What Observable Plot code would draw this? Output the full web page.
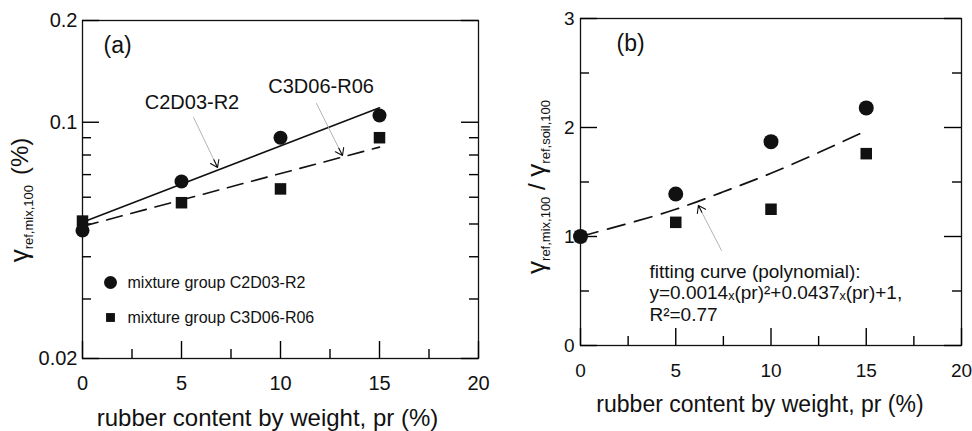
<!DOCTYPE html>
<html><head><meta charset="utf-8">
<script src="https://cdn.jsdelivr.net/npm/d3@7"></script>
<script src="https://cdn.jsdelivr.net/npm/@observablehq/plot@0.6"></script>
<style>
body{margin:0;background:#fff;}
#wrap{position:relative;width:972px;height:431px;overflow:hidden;background:#fff;}
#wrap svg{position:absolute;top:0;overflow:visible;}
</style></head><body><div id="wrap"></div>
<script>
// ---- data ----
const prContent = [0, 5, 10, 15];                 // rubber content by weight, pr (%)
const gammaC2D03 = [0.0478, 0.0668, 0.090, 0.1047]; // γref,mix,100 (%) group C2D03-R2
const gammaC3D06 = [0.051, 0.0578, 0.0635, 0.090];  // γref,mix,100 (%) group C3D06-R06
const fitX = [0, 15];
const fitC2D03 = [0.0506, 0.1103];   // solid fit line (a)
const fitC3D06 = [0.0492, 0.0844];   // dashed fit line (a)
const ratioC2D03 = [1.0, 1.39, 1.87, 2.18];  // γmix/γsoil (b)
const ratioC3D06 = [1.0, 1.13, 1.25, 1.76];
const polyX = [0, 2.5, 5, 7.5, 10, 12.5, 15];
const polyFit = [1.0, 1.12, 1.25, 1.41, 1.58, 1.77, 1.97];
const xTicks = [0, 5, 10, 15, 20];
const xMinorTicks = [2.5, 7.5, 12.5, 17.5];
const yTicksA = [0.02, 0.1, 0.2];
const yMinorA = [0.03, 0.04, 0.05, 0.06, 0.07, 0.08, 0.09];
const yTicksB = [0, 1, 2, 3];
const yMinorB = [0.5, 1.5, 2.5];

const font = '"Liberation Sans", Arial, Helvetica, sans-serif';
const INK = "#111";
const MAJ = 17, MIN = 9;

// inward ticks drawn as short rules (inset from the opposite side)
function inTicks(data, axis, len, fw, fh) {
  const common = {stroke: "#000", strokeWidth: 1.4};
  if (axis === "bottom") return Plot.ruleX(data, {...common, x: d => d, insetTop: fh - len});
  if (axis === "left") return Plot.ruleY(data, {...common, y: d => d, insetRight: fw - len});
  return Plot.ruleY(data, {...common, y: d => d, insetLeft: fw - len});
}

function frameAxes({xMaj, xMin, yMaj, yMin, yFmt, xPad, yPad, fs, fw, fh}) {
  return [
    Plot.frame({stroke: INK, strokeWidth: 1.3, fill: "none"}),
    Plot.axisX(xMaj, {anchor: "bottom", tickSize: 0, tickPadding: xPad, fontSize: fs, label: null, fill: INK}),
    Plot.axisY(yMaj, {anchor: "left", tickSize: 0, tickPadding: yPad, fontSize: fs, tickFormat: yFmt, label: null, fill: INK}),
    inTicks(xMaj, "bottom", MAJ, fw, fh),
    inTicks(xMin, "bottom", MIN, fw, fh),
    inTicks(yMaj, "left", MAJ, fw, fh),
    inTicks(yMin, "left", MIN, fw, fh),
    inTicks(yMaj, "right", MAJ, fw, fh),
    inTicks(yMin, "right", MIN, fw, fh)
  ];
}

function annotArrow(a) {
  return [
    Plot.arrow([a], {x1: "x1", y1: "y1", x2: "x2", y2: "y2", stroke: "#aaa", strokeWidth: 0.9, headLength: 0}),
    Plot.arrow([a], {x1: "x1", y1: "y1", x2: "x2", y2: "y2", stroke: INK, strokeWidth: 1.1, headLength: 11, headAngle: 70, insetStart: a.inset})
  ];
}

function yLabel(svg, x, y, parts) {
  const t = d3.select(svg).append("text")
    .attr("transform", `translate(${x},${y}) rotate(-90)`)
    .attr("text-anchor", "middle")
    .attr("font-family", font)
    .attr("fill", INK);
  for (const [s, size, dy, dx] of parts) {
    const sp = t.append("tspan").attr("font-size", size).text(s);
    if (dy) sp.attr("dy", dy);
    if (dx) sp.attr("dx", dx);
  }
}

// ---------- panel (a) ----------
const ptsA = prContent.map((pr, i) => ({pr, c2: gammaC2D03[i], c3: gammaC3D06[i]}));
const fitA = fitX.map((pr, i) => ({pr, c2: fitC2D03[i], c3: fitC3D06[i]}));
const A = {w: 486, h: 431, ml: 82, mr: 8, mt: 20, mb: 73};

const plotA = Plot.plot({
  width: A.w, height: A.h,
  marginLeft: A.ml, marginRight: A.mr, marginTop: A.mt, marginBottom: A.mb,
  style: {fontFamily: font, color: INK, background: "transparent", overflow: "visible"},
  x: {domain: [0, 20]},
  y: {type: "log", domain: [0.02, 0.2]},
  marks: [
    ...frameAxes({xMaj: xTicks, xMin: xMinorTicks, yMaj: yTicksA, yMin: yMinorA, yFmt: d => String(d), xPad: 17, yPad: 5, fs: 20,
      fw: A.w - A.ml - A.mr, fh: A.h - A.mt - A.mb}),
    Plot.line(fitA, {x: "pr", y: "c2", stroke: INK, strokeWidth: 1.6}),
    Plot.line(fitA, {x: "pr", y: "c3", stroke: INK, strokeWidth: 1.6, strokeDasharray: "16,9"}),
    Plot.dot(ptsA, {x: "pr", y: "c3", r: 6.5, symbol: "square", fill: INK}),
    Plot.dot(ptsA, {x: "pr", y: "c2", r: 7, fill: INK}),
    ...annotArrow({x1: 5.61, y1: 0.1033, x2: 6.82, y2: 0.0735, inset: 47}),
    ...annotArrow({x1: 11.82, y1: 0.1136, x2: 13.13, y2: 0.0797, inset: 50}),
    Plot.text(["C2D03-R2"], {x: 5.53, y: 0.1144, fontSize: 20, fill: INK, lineAnchor: "middle"}),
    Plot.text(["C3D06-R06"], {x: 12.05, y: 0.1276, fontSize: 20, fill: INK, lineAnchor: "middle"}),
    Plot.text(["(a)"], {frameAnchor: "top-left", dx: 21, dy: 25, textAnchor: "start", lineAnchor: "middle", fontSize: 23, fill: INK}),
    Plot.dot([0], {frameAnchor: "top-left", dx: 28, dy: 262, r: 6.5, fill: INK}),
    Plot.dot([0], {frameAnchor: "top-left", dx: 28, dy: 297, r: 5, symbol: "square", fill: INK}),
    Plot.text(["mixture group C2D03-R2"], {frameAnchor: "top-left", dx: 45, dy: 262, textAnchor: "start", lineAnchor: "middle", fontSize: 16, fill: INK}),
    Plot.text(["mixture group C3D06-R06"], {frameAnchor: "top-left", dx: 45, dy: 297, textAnchor: "start", lineAnchor: "middle", fontSize: 16, fill: INK}),
    Plot.text(["rubber content by weight, pr (%)"], {frameAnchor: "bottom", dx: -13, dy: 60, lineAnchor: "middle", fontSize: 24, fill: INK})
  ]
});
plotA.style.left = "0px";
yLabel(plotA, 28, 200, [["γ", 26], ["ref,mix,100", 13, 5], ["(%)", 24, -5, 10]]);

// ---------- panel (b) ----------
const ptsB = prContent.map((pr, i) => ({pr, c2: ratioC2D03[i], c3: ratioC3D06[i]}));
const fitB = polyX.map((pr, i) => ({pr, v: polyFit[i]}));
const B = {w: 486, h: 431, ml: 94, mr: 11, mt: 18, mb: 86};

const plotB = Plot.plot({
  width: B.w, height: B.h,
  marginLeft: B.ml, marginRight: B.mr, marginTop: B.mt, marginBottom: B.mb,
  style: {fontFamily: font, color: INK, background: "transparent", overflow: "visible"},
  x: {domain: [0, 20]},
  y: {domain: [0, 3]},
  marks: [
    ...frameAxes({xMaj: xTicks, xMin: xMinorTicks, yMaj: yTicksB, yMin: yMinorB, yFmt: d => String(d), xPad: 18, yPad: 6, fs: 19,
      fw: B.w - B.ml - B.mr, fh: B.h - B.mt - B.mb}),
    Plot.line(fitB, {x: "pr", y: "v", stroke: INK, strokeWidth: 1.7, strokeDasharray: "18,10", curve: "natural"}),
    Plot.dot(ptsB, {x: "pr", y: "c3", r: 6.5, symbol: "square", fill: INK}),
    Plot.dot(ptsB, {x: "pr", y: "c2", r: 7.5, fill: INK}),
    ...annotArrow({x1: 7.40, y1: 0.872, x2: 6.19, y2: 1.284, inset: 43}),
    Plot.text(["(b)"], {frameAnchor: "top-left", dx: 36, dy: 25, textAnchor: "start", lineAnchor: "middle", fontSize: 23, fill: INK}),
    Plot.text(["fitting curve (polynomial):\ny=0.0014ₓ(pr)²+0.0437ₓ(pr)+1,\nR²=0.77"], {x: 3.62, y: 0.486, textAnchor: "start", lineAnchor: "middle", lineHeight: 1.13, fontSize: 19, fill: INK}),
    Plot.text(["rubber content by weight, pr (%)"], {frameAnchor: "bottom", dx: -11, dy: 59, lineAnchor: "middle", fontSize: 23, fill: INK})
  ]
});
plotB.style.left = "486px";
yLabel(plotB, 545 - 486, 187, [["γ", 26], ["ref,mix,100", 13, 5], [" / ", 24, -5], ["γ", 26], ["ref,soil,100", 13, 5]]);

const wrap = document.getElementById("wrap");
wrap.appendChild(plotA);
wrap.appendChild(plotB);
</script>
</body></html>
